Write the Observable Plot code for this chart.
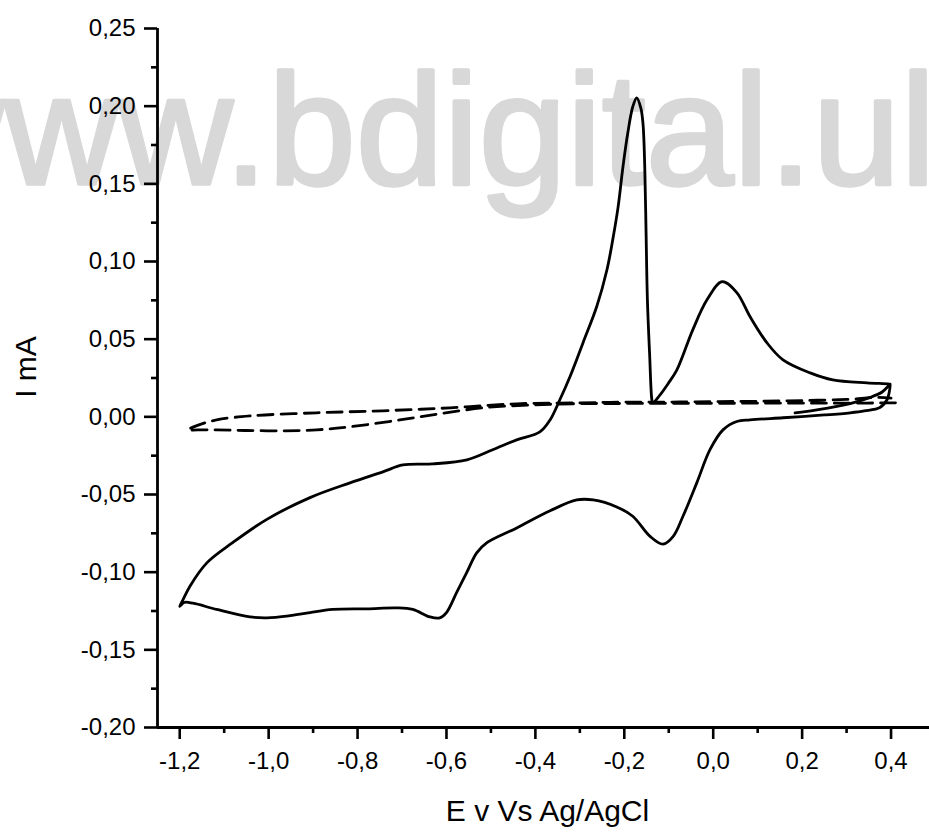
<!DOCTYPE html>
<html>
<head>
<meta charset="utf-8">
<script src="https://cdn.jsdelivr.net/npm/d3@7"></script>
<script src="https://cdn.jsdelivr.net/npm/@observablehq/plot@0.6"></script>
<style>
  html, body { margin: 0; padding: 0; background: #fff; }
  #chart svg { display: block; }
  #chart svg g[aria-label="x-axis tick label"] text,
  #chart svg g[aria-label="y-axis tick label"] text { font-size: 24px; }
</style>
</head>
<body>
<div id="chart"></div>
<script>
// Cyclic voltammogram: potential E (V vs Ag/AgCl) and current I (mA).
// Modified electrode: short start segment, cathodic sweep to -1.2 V, anodic sweep back to +0.4 V.
const solidE = [
  0.184, 0.233, 0.308, 0.353, 0.380, 0.393, 0.398,
  0.396, 0.391, 0.375, 0.340, 0.308, 0.250, 0.157, 0.083, 0.053, 0.022, -0.007, -0.037, -0.068, -0.090,
  -0.113, -0.142, -0.181, -0.217, -0.270, -0.307, -0.367, -0.442, -0.509, -0.532, -0.554, -0.577, -0.600,
  -0.615, -0.637, -0.676, -0.712, -0.779, -0.856, -0.907, -0.952, -1.004, -1.042, -1.117, -1.170, -1.190, -1.200,
  -1.193, -1.177, -1.139, -1.081, -1.004, -0.907, -0.817, -0.743, -0.698, -0.631, -0.554, -0.496, -0.442,
  -0.390, -0.367, -0.345, -0.322, -0.293, -0.262, -0.239, -0.226, -0.214, -0.203, -0.192, -0.181, -0.172,
  -0.163, -0.158, -0.154, -0.151, -0.148, -0.143, -0.138, -0.136, -0.120, -0.100, -0.082, -0.046, -0.014,
  0.020, 0.053, 0.083, 0.121, 0.157, 0.218, 0.269, 0.346, 0.393, 0.398
];
const solidI = [
  0.0026, 0.0045, 0.0085, 0.0125, 0.0160, 0.0195, 0.0210,
  0.0160, 0.0110, 0.0060, 0.0038, 0.0026, 0.0012, -0.0006, -0.0020, -0.0030, -0.0084, -0.0210, -0.0425, -0.0640, -0.0770,
  -0.0820, -0.0770, -0.0640, -0.0580, -0.0535, -0.0535, -0.0605, -0.0715, -0.0810, -0.0876, -0.1000, -0.1130, -0.1260,
  -0.1294, -0.1288, -0.1240, -0.1230, -0.1236, -0.1240, -0.1260, -0.1280, -0.1294, -0.1288, -0.1240, -0.1200, -0.1195, -0.1220,
  -0.1180, -0.1090, -0.0940, -0.0810, -0.0660, -0.0520, -0.0425, -0.0354, -0.0310, -0.0303, -0.0277, -0.0212, -0.0148,
  -0.0097, -0.0020, 0.0110, 0.0260, 0.0476, 0.0710, 0.0947, 0.1140, 0.1350, 0.1610, 0.1830, 0.1996, 0.2054,
  0.1990, 0.1890, 0.1610, 0.1180, 0.0750, 0.0400, 0.0110, 0.0090, 0.0140, 0.0220, 0.0300, 0.0560, 0.0753,
  0.0870, 0.0800, 0.0644, 0.0476, 0.0367, 0.0283, 0.0238, 0.0219, 0.0212, 0.0210
];

// Blank electrode (dashed): cathodic sweep from +0.41 V to -1.18 V and back.
const blankE = [
  0.410, 0.300, 0.200, 0.100, 0.000, -0.100, -0.200, -0.300, -0.406, -0.518, -0.631, -0.705, -0.817, -0.892,
  -0.968, -1.050, -1.117, -1.160, -1.182,
  -1.160, -1.117, -1.042, -0.892, -0.743, -0.592, -0.442, -0.300, -0.200, -0.100, 0.000, 0.100, 0.200, 0.300,
  0.370, 0.400
];
const blankI = [
  0.0090, 0.0088, 0.0088, 0.0088, 0.0087, 0.0087, 0.0086, 0.0085, 0.0077, 0.0058, 0.0013, -0.0020, -0.0064, -0.0084,
  -0.0090, -0.0088, -0.0084, -0.0084, -0.0084,
  -0.0055, -0.0020, 0.0006, 0.0026, 0.0039, 0.0058, 0.0084, 0.0090, 0.0095, 0.0095, 0.0098, 0.0100, 0.0105, 0.0112,
  0.0125, 0.0120
];

const xTicks = [-1.2, -1.0, -0.8, -0.6, -0.4, -0.2, 0.0, 0.2, 0.4];
const xMinorTicks = [-1.1, -0.9, -0.7, -0.5, -0.3, -0.1, 0.1, 0.3];
const yTicks = [-0.20, -0.15, -0.10, -0.05, 0.00, 0.05, 0.10, 0.15, 0.20, 0.25];
const yMinorTicks = [-0.175, -0.125, -0.075, -0.025, 0.025, 0.075, 0.125, 0.175, 0.225];

const xTitle = "E v Vs Ag/AgCl";
const yTitle = "I mA";
const watermark = "www.bdigital.ulpgc.es";

// Decimal comma and a plain hyphen for negatives
const fmtX = v => (v < 0 ? "-" : "") + Math.abs(v).toFixed(1).replace(".", ",");
const fmtY = v => (v < 0 ? "-" : "") + Math.abs(v).toFixed(2).replace(".", ",");

const solid = solidE.map((e, i) => ({E: e, I: solidI[i]}));
const blank = blankE.map((e, i) => ({E: e, I: blankI[i]}));

const font = "'Liberation Sans', Arial, Helvetica, sans-serif";

const chart = Plot.plot({
  width: 929,
  height: 834,
  marginLeft: 157,
  marginRight: 0,
  marginTop: 28,
  marginBottom: 107,
  x: {domain: [-1.25, 0.4865]},
  y: {domain: [-0.20, 0.25]},
  style: {fontFamily: font, fontSize: "24px", color: "black", background: "white"},
  marks: [
    // watermark band behind everything
    Plot.text([watermark], {
      text: d => d, frameAnchor: "top-left", dx: -267, dy: 155,
      textAnchor: "start", lineAnchor: "bottom", fontSize: 158,
      fill: "#d8d8d8", stroke: "#d8d8d8", strokeWidth: 3.5
    }),
    // axis lines
    Plot.ruleY([-0.20], {stroke: "black", strokeWidth: 2.8}),
    Plot.ruleX([-1.25], {stroke: "black", strokeWidth: 2.8}),
    // ticks (pointing outward), with minor ticks in between
    Plot.axisX(xTicks, {tickSize: 12, tickPadding: 12, tickFormat: fmtX, strokeWidth: 2.6, fontSize: 24, label: null}),
    Plot.axisX(xMinorTicks, {tickSize: 6, tickFormat: () => "", strokeWidth: 2.6, label: null}),
    Plot.axisY(yTicks, {tickSize: 13, tickPadding: 9, tickFormat: fmtY, strokeWidth: 2.6, fontSize: 24, label: null}),
    Plot.axisY(yMinorTicks, {tickSize: 6, tickFormat: () => "", strokeWidth: 2.6, label: null}),
    // curves
    Plot.line(blank, {x: "E", y: "I", stroke: "black", strokeWidth: 2.8, strokeDasharray: "15,8", curve: "catmull-rom"}),
    Plot.line(solid, {x: "E", y: "I", stroke: "black", strokeWidth: 2.8, curve: "catmull-rom"}),
    // axis titles
    Plot.text([yTitle], {
      text: d => d, frameAnchor: "left", dx: -131, dy: -11, rotate: -90,
      textAnchor: "middle", lineAnchor: "middle", fontSize: 30
    }),
    Plot.text([xTitle], {
      text: d => d, frameAnchor: "bottom", dx: 4, dy: 93,
      textAnchor: "middle", lineAnchor: "bottom", fontSize: 30
    })
  ]
});

document.getElementById("chart").appendChild(chart);
</script>
</body>
</html>
